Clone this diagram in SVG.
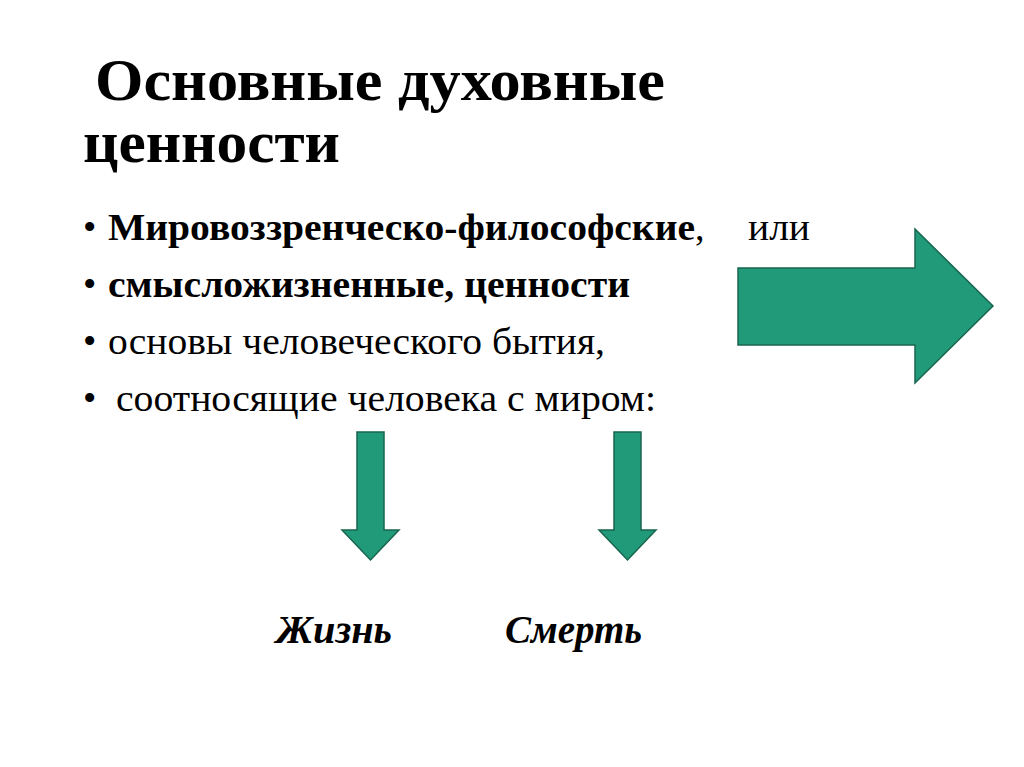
<svg xmlns="http://www.w3.org/2000/svg" width="1024" height="767" viewBox="0 0 1024 767">
<style>
.t{font-family:"Liberation Serif",serif;fill:#000}
.ar{fill:#209A78;stroke:#17654f;stroke-width:1.5}
</style>
<rect width="1024" height="767" fill="#fff"/>
<g id="title" font-size="60" font-weight="bold"><text class="t" x="95" y="100" textLength="570" lengthAdjust="spacingAndGlyphs">Основные духовные</text>
<text class="t" x="83" y="162" textLength="257" lengthAdjust="spacingAndGlyphs">ценности</text></g>
<g id="bullets" font-size="38">
<text class="t" x="83" y="240">•</text>
<text class="t" x="108" y="240" font-weight="bold" textLength="587" lengthAdjust="spacingAndGlyphs">Мировоззренческо-философские</text>
<text class="t" x="695" y="240">,</text>
<text class="t" x="748" y="240" textLength="62" lengthAdjust="spacingAndGlyphs">или</text>
<text class="t" x="83" y="297">•</text>
<text class="t" x="108" y="297" font-weight="bold" textLength="522" lengthAdjust="spacingAndGlyphs">смысложизненные, ценности</text>
<text class="t" x="83" y="354">•</text>
<text class="t" x="108" y="354" textLength="497" lengthAdjust="spacingAndGlyphs">основы человеческого бытия,</text>
<text class="t" x="83" y="411">•</text>
<text class="t" x="116" y="411" textLength="540" lengthAdjust="spacingAndGlyphs">соотносящие человека с миром:</text>
</g>
<g id="connectors">
<polygon class="ar" points="738,268 915,268 915,229 993,306 915,383 915,345 738,345"/>
<polygon class="ar" points="357,432 384,432 384,530 399,530 370.5,560 342,530 357,530"/>
<polygon class="ar" points="614,432 641,432 641,530 656,530 627.5,560 599,530 614,530"/>
</g>
<g id="life"><text class="t" x="276" y="643" font-size="40" font-weight="bold" font-style="italic" textLength="116" lengthAdjust="spacingAndGlyphs">Жизнь</text></g>
<g id="death"><text class="t" x="505" y="643" font-size="40" font-weight="bold" font-style="italic" textLength="137" lengthAdjust="spacingAndGlyphs">Смерть</text></g>
</svg>
